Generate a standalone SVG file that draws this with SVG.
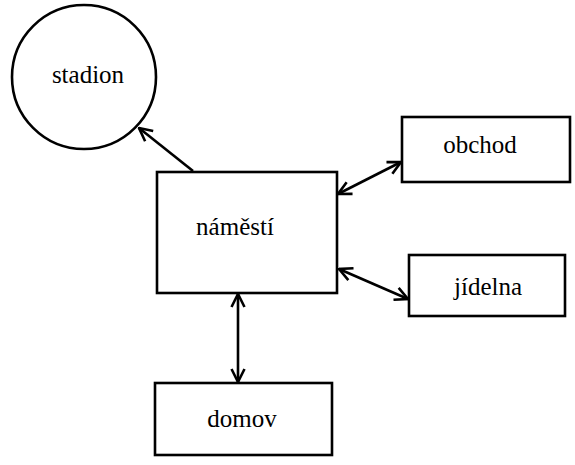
<svg xmlns="http://www.w3.org/2000/svg" width="575" height="465" viewBox="0 0 575 465">
<style>
.n{fill:#fff;stroke:#000;stroke-width:2.6}
.t{font-family:'Liberation Serif','Times New Roman',serif;font-size:25px;fill:#000;text-anchor:middle}
.c{stroke:#000;stroke-width:2.6;fill:none;marker-end:url(#a)}
.b{marker-start:url(#a)}
</style>
<defs>
<marker id="a" viewBox="0 0 16 16" refX="15" refY="8" markerWidth="16" markerHeight="16" markerUnits="userSpaceOnUse" orient="auto-start-reverse">
<path d="M2,1.5 L15,8 L2,14.5" fill="none" stroke="#000" stroke-width="2.6"/>
</marker>
</defs>
<rect width="575" height="465" fill="#fff"/>
<g id="stadion"><circle class="n" cx="84" cy="77" r="72"/><text class="t" x="88" y="83">stadion</text></g>
<g id="namesti"><rect class="n" x="157" y="172" width="180" height="121"/><text class="t" x="235" y="235">náměstí</text></g>
<g id="obchod"><rect class="n" x="402" y="117" width="168" height="65"/><text class="t" x="480" y="153">obchod</text></g>
<g id="jidelna"><rect class="n" x="409" y="255" width="156" height="61"/><text class="t" x="488" y="295">jídelna</text></g>
<g id="domov"><rect class="n" x="155" y="383" width="177" height="72"/><text class="t" x="242" y="427">domov</text></g>
<g id="connectors">
<line class="c" x1="193" y1="171" x2="139" y2="128"/>
<line class="c b" x1="338" y1="194" x2="401" y2="162"/>
<line class="c b" x1="339" y1="269" x2="408" y2="299"/>
<line class="c b" x1="238" y1="294" x2="238" y2="382"/>
</g>
</svg>
